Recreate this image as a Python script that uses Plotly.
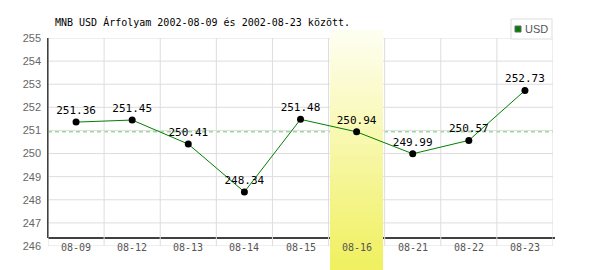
import plotly.graph_objects as go

categories = ["08-09", "08-12", "08-13", "08-14", "08-15", "08-16", "08-21", "08-22", "08-23"]
usd_values = [251.36, 251.45, 250.41, 248.34, 251.48, 250.94, 249.99, 250.57, 252.73]
reference_level = 250.94
highlight_index = 5
y_ticks = list(range(246, 256))
title_text = "MNB USD Árfolyam 2002-08-09 és 2002-08-23 között."
series_name = "USD"

xs = list(range(len(categories)))
mono = "DejaVu Sans Mono"
grid_color = "#dddddd"

fig = go.Figure()
fig.add_trace(go.Scatter(
    x=xs, y=usd_values, mode="lines+markers+text",
    text=[f"{v:.2f}" for v in usd_values], textposition="top center",
    textfont=dict(family=mono, size=11, color="#000000"),
    line=dict(color="#008000", width=1),
    marker=dict(color="#000000", size=7),
    showlegend=False, cliponaxis=False,
))

shapes = []
for yv in y_ticks:
    shapes.append(dict(type="line", xref="paper", yref="y", x0=0, x1=1, y0=yv, y1=yv,
                       line=dict(color=grid_color, width=1), layer="below"))
for i in range(-1, len(categories)):
    shapes.append(dict(type="line", xref="x", yref="y", x0=i + 0.5, x1=i + 0.5,
                       y0=y_ticks[0], y1=y_ticks[-1],
                       line=dict(color=grid_color, width=1), layer="below"))
shapes.append(dict(type="line", xref="paper", yref="y", x0=0, x1=1,
                   y0=reference_level, y1=reference_level,
                   line=dict(color="#66cc66", width=1, dash="4px,3px"), layer="below"))
shapes.append(dict(type="line", xref="paper", yref="paper", x0=0, x1=0,
                   y0=(246 - 238) / 208, y1=1,
                   line=dict(color="#000000", width=1.5), layer="below"))
shapes.append(dict(type="line", xref="paper", yref="paper", x0=0, x1=1.004,
                   y0=(246 - 238) / 208, y1=(246 - 238) / 208,
                   line=dict(color="#000000", width=1.5), layer="below"))

n = 40
top_px, bot_px = 30, 270
c0 = (254, 254, 240)
c1 = (240, 240, 96)
for i in range(n):
    t = i / (n - 1)
    col = tuple(round(c0[k] + (c1[k] - c0[k]) * t) for k in range(3))
    p0 = top_px + (bot_px - top_px) * i / n
    shapes.append(dict(type="rect", xref="x", yref="paper",
                       x0=highlight_index - 0.47, x1=highlight_index + 0.47,
                       y0=(246 - bot_px) / 208, y1=(246 - p0) / 208,
                       fillcolor="rgb(%d,%d,%d)" % col, line=dict(width=0), layer="below"))

def px(xp):
    return (xp - 48) / 505
def py(yp):
    return (246 - yp) / 208
shapes.append(dict(type="rect", xref="paper", yref="paper",
                   x0=px(511), x1=px(552), y0=py(39), y1=py(19),
                   fillcolor="#ffffff", line=dict(color="#dddddd", width=1), layer="above"))
shapes.append(dict(type="rect", xref="paper", yref="paper",
                   x0=px(515), x1=px(521), y0=py(32), y1=py(26),
                   fillcolor="#008000", line=dict(color="#666666", width=1), layer="above"))

annotations = []
for i, c in enumerate(categories):
    annotations.append(dict(x=i, y=246, xref="x", yref="y", text=c, showarrow=False,
                            font=dict(family=mono, size=10, color="#555555"),
                            xanchor="center", yanchor="middle", yshift=-1))
annotations.append(dict(x=px(523), y=py(29), xref="paper", yref="paper", text=series_name,
                        showarrow=False, xanchor="left", yanchor="middle",
                        font=dict(family="Liberation Sans", size=11, color="#555555")))
annotations.append(dict(x=px(53), y=py(22), xref="paper", yref="paper", text=title_text,
                        showarrow=False, xanchor="left", yanchor="middle",
                        font=dict(family=mono, size=10, color="#000000")))

fig.update_layout(
    width=600, height=270,
    margin=dict(l=48, r=47, t=38, b=24, pad=0),
    paper_bgcolor="#ffffff", plot_bgcolor="rgba(0,0,0,0)",
    shapes=shapes, annotations=annotations,
    font=dict(family="Liberation Sans", size=11, color="#666666"),
    xaxis=dict(range=[-0.5, len(categories) - 0.5], showticklabels=False, showgrid=False,
               zeroline=False, showline=False, ticks=""),
    yaxis=dict(range=[246, 255], tickvals=y_ticks, showgrid=False,
               zeroline=False, showline=False, ticks="", ticklabelstandoff=6,
               tickfont=dict(family="Liberation Sans", size=11, color="#666666")),
)

fig.write_html("out.html")
